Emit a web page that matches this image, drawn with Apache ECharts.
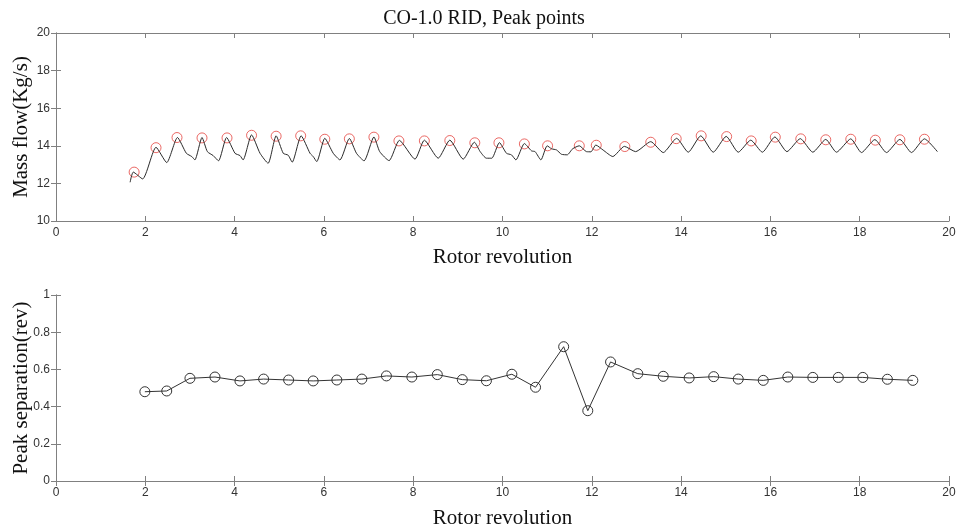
<!DOCTYPE html>
<html>
<head>
<meta charset="utf-8">
<script src="https://cdn.jsdelivr.net/npm/echarts@6/dist/echarts.min.js"></script>
<style>
  html, body { margin: 0; padding: 0; background: #fff; }
  #chart { width: 968px; height: 530px; }
</style>
</head>
<body>
<div id="chart"></div>
<script>
// mass flow trace
const flowX = [1.66, 1.73, 1.94, 2.24, 2.48, 2.72, 2.92, 3.04, 3.11, 3.27, 3.39, 3.52, 3.64, 3.82, 4.01, 4.12, 4.19,
  4.38, 4.57, 4.75, 4.93, 5.09, 5.2, 5.29, 5.49, 5.69, 5.76, 5.84, 6.02, 6.21, 6.36, 6.57, 6.73, 6.9, 7.12, 7.25,
  7.46, 7.69, 8.04, 8.25, 8.56, 8.82, 9.12, 9.37, 9.5, 9.64, 9.76, 9.93, 10.09, 10.2, 10.3, 10.49, 10.65, 10.73,
  10.86, 11.0, 11.1, 11.21, 11.32, 11.45, 11.57, 11.72, 11.88, 11.98, 12.09, 12.25, 12.47, 12.73, 12.98, 13.32,
  13.6, 13.9, 14.16, 14.44, 14.72, 15.01, 15.28, 15.56, 15.82, 16.1, 16.37, 16.67, 16.95, 17.24, 17.48, 17.8,
  18.04, 18.34, 18.6, 18.9, 19.16, 19.45, 19.74];
const flowY = [12.06, 12.6, 12.24, 13.92, 13.11, 14.44, 13.6, 13.43, 13.25, 14.44, 13.69, 13.48, 13.2, 14.44, 13.6, 13.48, 13.25,
  14.58, 13.6, 13.07, 14.53, 13.6, 13.5, 13.13, 14.53, 13.6, 13.43, 13.16, 14.4, 13.6, 13.25, 14.39, 13.6, 13.2, 14.47, 13.69,
  13.21, 14.29, 13.29, 14.3, 13.34, 14.3, 13.29, 14.19, 13.69, 13.34, 13.34, 14.17, 13.6, 13.52, 13.25, 14.12, 13.73, 13.69,
  13.25, 14.0, 13.84, 13.78, 13.55, 13.52, 13.84, 14.0, 13.69, 13.68, 14.04, 13.78, 13.43, 13.97, 13.69, 14.22,
  13.64, 14.4, 13.66, 14.53, 13.66, 14.5, 13.66, 14.3, 13.66, 14.47, 13.69, 14.38, 13.66, 14.34, 13.66, 14.37,
  13.64, 14.33, 13.64, 14.34, 13.64, 14.37, 13.69];

// detected peaks
const peakX = [1.75, 2.24, 2.71, 3.27, 3.83, 4.38, 4.93, 5.48, 6.02, 6.57, 7.12, 7.68, 8.25, 8.82, 9.38, 9.92, 10.49,
  11.01, 11.72, 12.1, 12.74, 13.32, 13.89, 14.45, 15.02, 15.57, 16.11, 16.68, 17.24, 17.8, 18.35, 18.9, 19.45];
const peakY = [12.6, 13.9, 14.44, 14.42, 14.42, 14.56, 14.51, 14.53, 14.35, 14.37, 14.46, 14.26, 14.26, 14.28, 14.16, 14.16, 14.1,
  14.0, 14.0, 14.03, 13.96, 14.19, 14.38, 14.53, 14.49, 14.26, 14.46, 14.37, 14.32, 14.35, 14.3, 14.32, 14.35];

// peak separation
const sepX = [1.99, 2.48, 3.0, 3.56, 4.12, 4.65, 5.21, 5.76, 6.29, 6.85, 7.4, 7.97, 8.54, 9.1, 9.64, 10.21,
  10.74, 11.37, 11.91, 12.42, 13.03, 13.6, 14.18, 14.73, 15.28, 15.84, 16.39, 16.95, 17.52, 18.07, 18.62, 19.19];
const sepY = [0.48, 0.484, 0.552, 0.559, 0.538, 0.548, 0.543, 0.538, 0.543, 0.548, 0.565, 0.559, 0.572, 0.545, 0.539, 0.574,
  0.504, 0.722, 0.378, 0.64, 0.577, 0.563, 0.554, 0.561, 0.548, 0.541, 0.559, 0.557, 0.557, 0.557, 0.547, 0.541];

const chart = echarts.init(document.getElementById("chart"));

const serif = "Liberation Serif";
const sans = "Liberation Sans";
const boxLine = { lineStyle: { color: "#808080", width: 1 } };
const tick = { show: true, inside: true, length: 5, lineStyle: { color: "#808080" } };
const tickLabel = { color: "#333", fontFamily: sans, fontSize: 12, margin: 6 };
const axisName = { color: "#111", fontFamily: serif, fontSize: 21 };

function bottomX(gridIndex, gap) {
  return {
    type: "value", gridIndex, min: 0, max: 20, interval: 2,
    name: "Rotor revolution", nameLocation: "middle", nameGap: gap, nameTextStyle: axisName,
    nameMoveOverlap: false,
    axisLine: boxLine, axisTick: tick, axisLabel: tickLabel, splitLine: { show: false }
  };
}
function topX(gridIndex) {
  return {
    type: "value", gridIndex, position: "top", min: 0, max: 20, interval: 2,
    axisLine: boxLine, axisTick: tick, axisLabel: { show: false }, splitLine: { show: false }
  };
}
function leftY(gridIndex, min, max, interval, name) {
  return {
    type: "value", gridIndex, min, max, interval,
    name, nameLocation: "middle", nameGap: 24, nameTextStyle: axisName,
    nameMoveOverlap: false,
    axisLine: { show: true, ...boxLine }, axisTick: tick, axisLabel: tickLabel,
    splitLine: { show: false }
  };
}
function rightY(gridIndex, min, max, interval) {
  return {
    type: "value", gridIndex, position: "right", min, max, interval,
    axisLine: { show: true, ...boxLine }, axisTick: tick, axisLabel: { show: false },
    splitLine: { show: false }
  };
}

chart.setOption({
  animation: false,
  backgroundColor: "#fff",
  title: {
    text: "CO-1.0 RID, Peak points", left: "center", top: 4,
    textStyle: { fontFamily: serif, fontSize: 20, fontWeight: "normal", color: "#111" }
  },
  grid: [
    { left: 56, right: 19, top: 33, height: 188, outerBoundsMode: "none", containLabel: false },
    { left: 56, right: 19, top: 295, height: 186, outerBoundsMode: "none", containLabel: false }
  ],
  xAxis: [bottomX(0, 26), topX(0), bottomX(1, 27), topX(1)],
  yAxis: [
    leftY(0, 10, 20, 2, "Mass flow(Kg/s)"), rightY(0, 10, 20, 2),
    leftY(1, 0, 1, 0.2, "Peak separation(rev)"), rightY(1, 0, 1, 0.2)
  ],
  series: [
    {
      type: "line", xAxisIndex: 0, yAxisIndex: 0,
      data: flowX.map((x, i) => [x, flowY[i]]),
      smooth: 0.2, showSymbol: false,
      lineStyle: { color: "#2a2a2a", width: 1 }
    },
    {
      type: "scatter", xAxisIndex: 0, yAxisIndex: 0,
      data: peakX.map((x, i) => [x, peakY[i]]),
      symbol: "circle", symbolSize: 10,
      itemStyle: { color: "rgba(0,0,0,0)", borderColor: "#e5443f", borderWidth: 1 }
    },
    {
      type: "line", xAxisIndex: 2, yAxisIndex: 2,
      data: sepX.map((x, i) => [x, sepY[i]]),
      symbol: "circle", symbolSize: 10,
      lineStyle: { color: "#333", width: 1 },
      itemStyle: { color: "rgba(0,0,0,0)", borderColor: "#333", borderWidth: 1 }
    }
  ]
});
</script>
</body>
</html>
